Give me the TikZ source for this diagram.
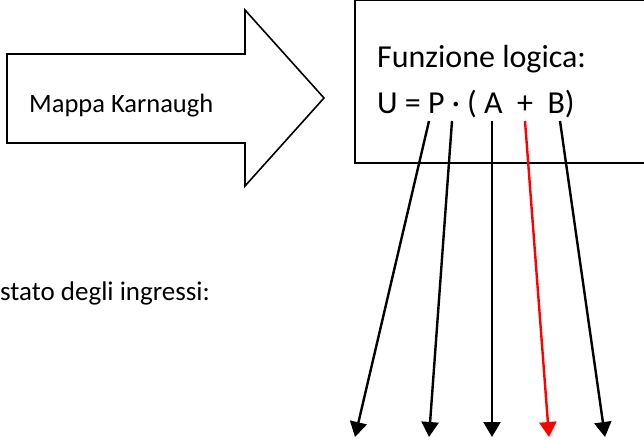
\documentclass[tikz,border=0pt]{standalone}
\usepackage{fontspec}
\setmainfont{Carlito}
\usetikzlibrary{arrows.meta,positioning,calc}
\definecolor{WireRed}{RGB}{255,0,0}

\begin{document}
\begin{tikzpicture}[x=1pt, y=-1pt, >={Triangle[width=17pt,length=15pt]},
  outline/.style={draw, line width=1.6pt, line join=miter},
  wire/.style={->, line width=2.4pt},
  label/.style={anchor=base west, inner sep=0pt}]
  \useasboundingbox (0,0) rectangle (644,439);
  \clip (0,0) rectangle (644,439);
  % freccia a blocco
  \draw[outline] (7,54) -- (245,54) -- (245,10) -- (324,98) -- (245,186) -- (245,143) -- (7,143) -- cycle;
  \node[label, font=\fontsize{26.5}{31}\selectfont] (mappa) at (29,112) {Mappa Karnaugh};
  % riquadro funzione
  \draw[outline] (355,0) rectangle (700,163);
  \node[label, font=\fontsize{32}{38}\selectfont] (titolo) at (377,67) {Funzione logica:};
  \node[label, font=\fontsize{32}{38}\selectfont] (funz) at (377,113) {U = P · ( A~~+~~B)};
  \node[label, font=\fontsize{27}{32}\selectfont] (stato) at (0,300) {stato degli ingressi:};
  % frecce verso gli ingressi
  \coordinate (sP) at (429,121);  \coordinate (eP) at (355,437);
  \coordinate (sDot) at (452,121); \coordinate (eDot) at (429,437);
  \coordinate (sA) at (492,121);  \coordinate (eA) at (492,437);
  \coordinate (sPlus) at (525,121); \coordinate (ePlus) at (549,437);
  \coordinate (sB) at (560,121);  \coordinate (eB) at (605,437);
  \draw[wire] (sP) -- (eP);
  \draw[wire] (sDot) -- (eDot);
  \draw[wire] (sA) -- (eA);
  \draw[wire, WireRed] (sPlus) -- (ePlus);
  \draw[wire] (sB) -- (eB);
\end{tikzpicture}
\end{document}
